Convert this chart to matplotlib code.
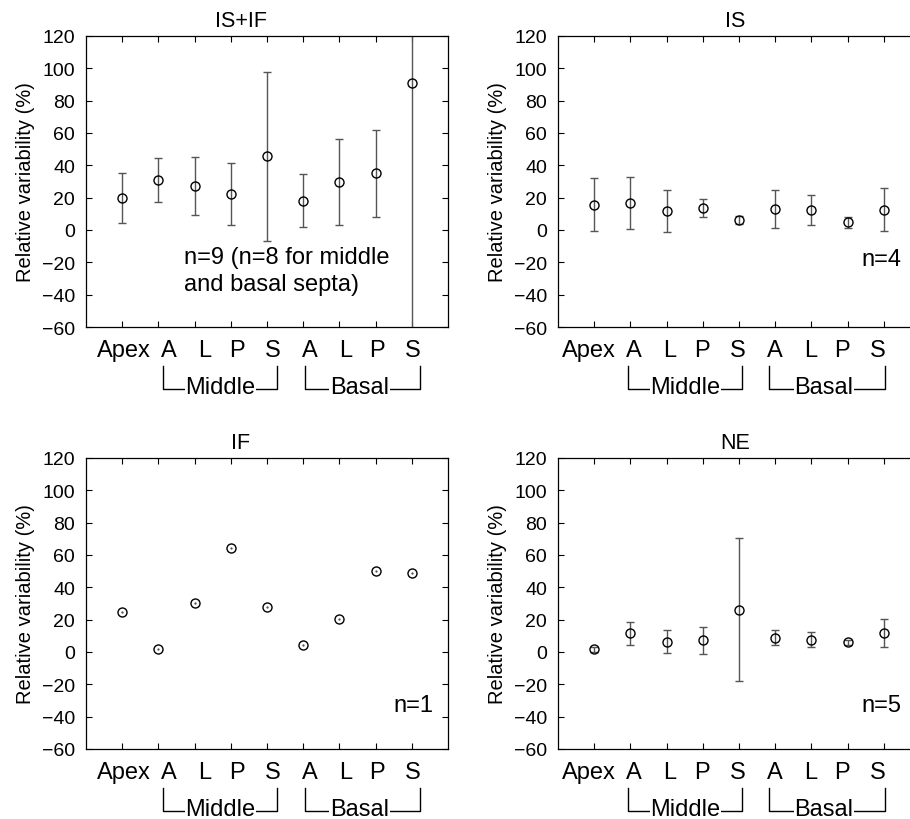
import matplotlib
matplotlib.use('Agg')
import matplotlib.pyplot as plt
import matplotlib.transforms as mtransforms
import numpy as np

plt.rcParams['font.family'] = ['Liberation Sans', 'DejaVu Sans']

# segment positions and labels
seg_x = np.arange(1, 10)
seg_labels = ['Apex', 'A', 'L', 'P', 'S', 'A', 'L', 'P', 'S']

# mean relative variability (%) and SD for each group
isif_mean = [19.6, 30.9, 27.2, 22.3, 45.5, 18.2, 29.7, 35.0, 91.0]
isif_sd = [15.4, 13.8, 17.8, 19.1, 52.5, 16.4, 26.8, 26.8, 160.0]

is_mean = [15.7, 16.7, 11.8, 13.6, 6.4, 12.8, 12.1, 4.7, 12.6]
is_sd = [16.5, 16.0, 13.0, 5.8, 2.5, 11.8, 9.3, 3.5, 13.5]

if_mean = [24.5, 1.9, 30.1, 64.5, 27.6, 4.0, 20.2, 49.9, 48.7]
if_sd = [0, 0, 0, 0, 0, 0, 0, 0, 0]

ne_mean = [1.6, 11.5, 6.4, 7.2, 26.2, 8.9, 7.6, 6.0, 11.7]
ne_sd = [1.5, 6.9, 7.0, 8.3, 44.0, 4.4, 4.6, 1.7, 8.4]

panels = [
    ('IS+IF', isif_mean, isif_sd, 'n=9 (n=8 for middle\nand basal septa)'),
    ('IS', is_mean, is_sd, 'n=4'),
    ('IF', if_mean, if_sd, 'n=1'),
    ('NE', ne_mean, ne_sd, 'n=5'),
]

# axes rectangles [left, bottom, width, height] in figure fraction
rects = [
    [0.0945, 0.600, 0.3978, 0.3549],
    [0.6132, 0.600, 0.3978, 0.3549],
    [0.0945, 0.0854, 0.3978, 0.3549],
    [0.6132, 0.0854, 0.3978, 0.3549],
]
col_shift = [0.1, -0.1, 0.1, -0.1]
title_x = [0.428, 0.489, 0.428, 0.489]

label_x = [0.95, 2.2, 3.19, 4.08, 5.07, 6.08, 7.08, 7.95, 8.94]

fig = plt.figure(figsize=(9.1, 8.2), dpi=100)

for i, (title, mean, sd, ntext) in enumerate(panels):
    ax = fig.add_axes(rects[i])
    if any(sd):
        ax.errorbar(seg_x, mean, yerr=sd, fmt='o', mfc='none', mec='black',
                    mew=1.0, ms=6.5, ecolor='#555555', elinewidth=1.0,
                    capsize=3, capthick=1.0)
    else:
        # single subject: no spread, just the point
        ax.plot(seg_x, mean, 'o', mfc='none', mec='black', mew=1.0, ms=6.5)
        ax.plot(seg_x, mean, '.', color='#444444', ms=1.2)

    ax.set_xlim(0, 10)
    ax.set_ylim(-60, 120)
    ax.set_yticks(np.arange(-60, 121, 20))
    ax.set_xticks(seg_x)
    ax.set_xticklabels([])
    ax.tick_params(direction='in', top=True, right=True, length=4,
                   width=0.8, labelsize=14, pad=8)
    for s in ax.spines.values():
        s.set_linewidth(0.9)
    ax.set_ylabel('Relative variability (%)', fontsize=14.5, labelpad=5)
    ax.set_title(title, fontsize=15.5, x=title_x[i], pad=7)

    if i == 0:
        ax.text(2.72, -25, ntext, fontsize=17, ha='left', va='center',
                linespacing=1.25)
    elif i == 1:
        ax.text(9.5, -18, ntext, fontsize=17, ha='right', va='center')
    else:
        ax.text(9.6 if i == 2 else 9.5, -33, ntext, fontsize=17,
                ha='right', va='center')

    trans = mtransforms.blended_transform_factory(ax.transData, ax.transAxes)
    sh = col_shift[i]
    for lx, lab in zip(label_x, seg_labels):
        ax.text(lx + sh, -0.078, lab, transform=trans, fontsize=17,
                ha='center', va='center', clip_on=False)

    # group brackets
    for x0, x1, xt, name in [(2.03, 5.19, 3.62, 'Middle'),
                              (5.94, 9.13, 7.45, 'Basal')]:
        ax.plot([x0 + sh, x0 + sh, x1 + sh, x1 + sh],
                [-0.134, -0.213, -0.213, -0.134], transform=trans,
                color='black', lw=1.0, clip_on=False)
        ax.text(xt + sh, -0.205, name, transform=trans, fontsize=17,
                ha='center', va='center', clip_on=False,
                bbox=dict(facecolor='white', edgecolor='none', pad=0.5))

fig.savefig('out.png', dpi=100)
